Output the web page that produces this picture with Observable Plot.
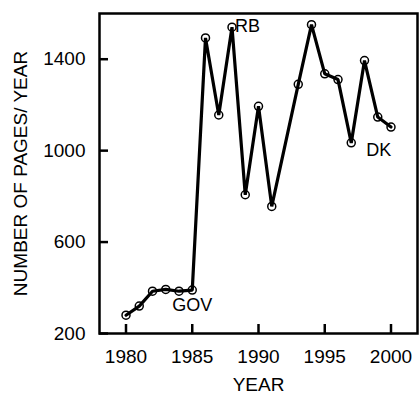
<!DOCTYPE html>
<html>
<head>
<meta charset="utf-8">
<script src="https://cdn.jsdelivr.net/npm/d3@7"></script>
<script src="https://cdn.jsdelivr.net/npm/@observablehq/plot@0.6"></script>
<style>
  html, body { margin: 0; padding: 0; background: #fff; }
  svg { display: block; }
</style>
</head>
<body>
<div id="chart"></div>
<script>
const years = [1980, 1981, 1982, 1983, 1984, 1985, 1986, 1987, 1988, 1989, 1990, 1991, 1993, 1994, 1995, 1996, 1997, 1998, 1999, 2000];
const pages = [280, 320, 385, 393, 385, 390, 1493, 1156, 1540, 807, 1194, 756, 1290, 1551, 1336, 1311, 1034, 1394, 1147, 1103];
const xTicks = [1980, 1985, 1990, 1995, 2000];
const yTicks = [200, 600, 1000, 1400];
const labelText = ["GOV", "RB", "DK"];
const labelYear = [1985, 1988, 1999];
const xTitle = "YEAR";
const yTitle = "NUMBER OF PAGES/ YEAR";

const data = years.map((y, i) => ({year: y, pages: pages[i]}));
const labels = labelText.map((t, i) => ({text: t, year: labelYear[i], pages: pages[years.indexOf(labelYear[i])]}));
const font = "Liberation Sans, Arial, Helvetica, sans-serif";

const chart = Plot.plot({
  width: 420,
  height: 394,
  marginLeft: 99,
  marginRight: 3,
  marginTop: 13,
  marginBottom: 61,
  style: {fontFamily: font, fontSize: "19px", color: "#000", background: "#fff"},
  x: {domain: [1978, 2002]},
  y: {domain: [200, 1600]},
  marks: [
    Plot.frame({stroke: "#000", strokeWidth: 2.5}),
    Plot.axisX(xTicks, {tickSize: -9, tickPadding: 25, strokeWidth: 2.5, tickFormat: d3.format("d"), fontSize: 19,
      label: xTitle, labelAnchor: "center", labelArrow: "none", labelOffset: 57}),
    Plot.axisY(yTicks, {tickSize: -9, tickPadding: 23, strokeWidth: 2.5, tickFormat: d3.format("d"), fontSize: 19,
      label: yTitle, labelAnchor: "center", labelArrow: "none", labelOffset: 86}),
    Plot.line(data, {x: "year", y: "pages", stroke: "#000", strokeWidth: 3.2, strokeLinejoin: "miter"}),
    Plot.dot(data, {x: "year", y: "pages", r: 4, stroke: "#000", strokeWidth: 1.5, fill: "none"}),
    Plot.text(labels.filter(d => d.text === "GOV"), {x: "year", y: "pages", text: "text", dy: 15, textAnchor: "middle", fontSize: 18}),
    Plot.text(labels.filter(d => d.text === "RB"), {x: "year", y: "pages", text: "text", dx: 3, dy: -1, textAnchor: "start", fontSize: 18}),
    Plot.text(labels.filter(d => d.text === "DK"), {x: "year", y: "pages", text: "text", dx: 1, dy: 33, textAnchor: "middle", fontSize: 18})
  ]
});
document.getElementById("chart").appendChild(chart);
</script>
</body>
</html>
